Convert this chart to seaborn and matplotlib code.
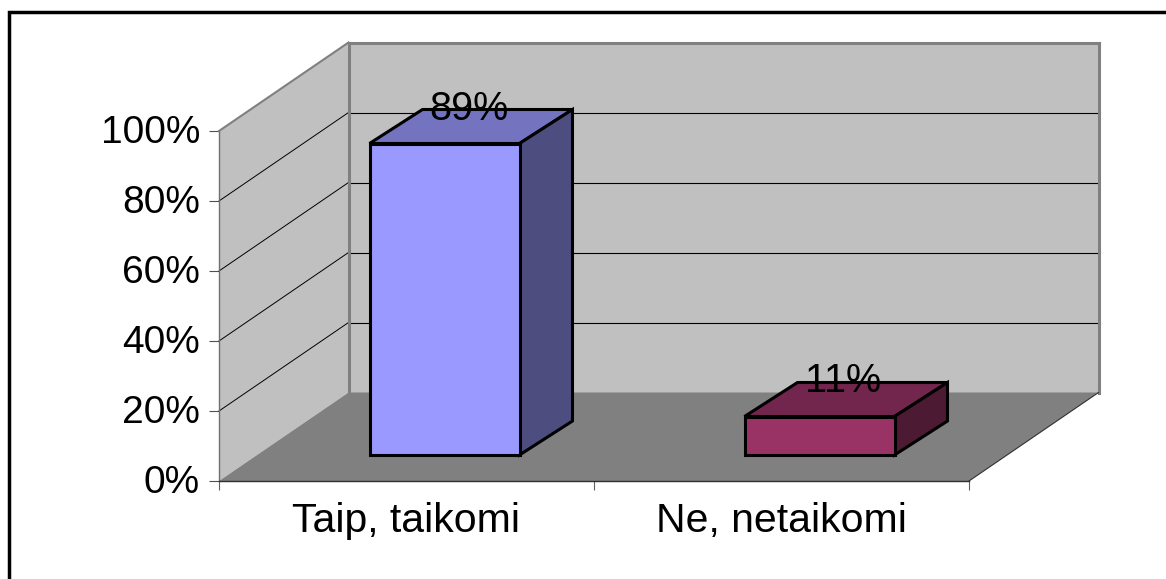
import matplotlib
matplotlib.use("Agg")
import matplotlib.pyplot as plt
import seaborn as sns
from matplotlib.lines import Line2D
from matplotlib.patches import Polygon
from matplotlib.transforms import IdentityTransform, Affine2D

# ---- data ----
categories = ["Taip, taikomi", "Ne, netaikomi"]
values = [89, 11]
value_labels = ["89%", "11%"]
y_ticks = [0, 20, 40, 60, 80, 100]
y_tick_labels = ["0%", "20%", "40%", "60%", "80%", "100%"]

# ---- style ----
front_colors = ["#9999FF", "#993366"]
top_colors = ["#7373BF", "#73264D"]
side_colors = ["#4D4D80", "#4D1A33"]
WALL, FLOOR, EDGE = "#C0C0C0", "#808080", "#808080"
W, H = 1166, 579
FLOOR_DEPTH = (129.5, 88.5)   # px: front plane to back wall
BAR_SHIFT = (38, 26)          # px: front plane to bar front face
BAR_DEPTH = (53, 34)          # px: bar front face to bar back face
FONT_Y = 28
FONT_X = 29.5
FONT_VALUE = 28.5
BAR_LW = 2.2

sns.set_style("white")
plt.rcParams["font.family"] = ["Liberation Sans", "DejaVu Sans"]

fig = plt.figure(figsize=(W / 100, H / 100), dpi=100, facecolor="white")
ax = fig.add_axes([219 / W, 1 - 481 / H, 750 / W, 350 / H], facecolor="none")

sns.barplot(x=categories, y=values, hue=categories, palette=front_colors,
            saturation=1, width=0.4, edgecolor="black", linewidth=BAR_LW,
            legend=False, ax=ax, zorder=3)
ax.set_xlim(-0.5, 1.5)
ax.set_ylim(0, 100)
for s in ax.spines.values():
    s.set_visible(False)

to_px = ax.transData.transform
ident = IdentityTransform()


def shifted(pt, d):
    return (pt[0] + d[0], pt[1] + d[1])


def add_poly(pts, **kw):
    ax.add_patch(Polygon(pts, closed=True, transform=ident, clip_on=False, **kw))


def add_line(a, b, color, lw, z):
    ax.add_line(Line2D([a[0], b[0]], [a[1], b[1]], color=color, lw=lw, transform=ident,
                       clip_on=False, zorder=z, solid_capstyle="projecting"))


x0, x1 = ax.get_xlim()
p00, p01 = to_px((x0, 0)), to_px((x0, 100))
p10 = to_px((x1, 0))
b00, b01, b10 = shifted(p00, FLOOR_DEPTH), shifted(p01, FLOOR_DEPTH), shifted(p10, FLOOR_DEPTH)
b11 = shifted(to_px((x1, 100)), FLOOR_DEPTH)

# walls and floor
add_poly([p00, p01, b01, b00], facecolor=WALL, edgecolor="none", zorder=0.5)
add_poly([b00, b01, b11, b10], facecolor=WALL, edgecolor="none", zorder=0.5)
add_poly([p00, b00, b10, p10], facecolor=FLOOR, edgecolor="none", zorder=0.6)

# gridlines
for v in y_ticks[1:-1]:
    p = to_px((x0, v))
    b = shifted(p, FLOOR_DEPTH)
    add_line(p, b, "black", 0.7, 0.8)
    add_line(b, shifted(to_px((x1, v)), FLOOR_DEPTH), "black", 0.8, 0.8)

# wall edges
add_line(p00, p01, "#707070", 1.0, 0.9)
add_line(p01, b01, EDGE, 1.5, 0.9)
add_line(b00, b01, EDGE, 2.2, 0.9)
add_line(b01, b11, EDGE, 2.2, 0.9)
add_line(b10, b11, EDGE, 2.2, 0.9)
add_line(p00, p10, "#303030", 1.0, 0.9)
add_line(p10, b10, "#303030", 0.8, 0.9)

# 3D bars, derived from seaborn's own bars
bars = [p for p in ax.patches if not isinstance(p, Polygon)]
for i, bar in enumerate(bars):
    xa, xb = bar.get_x(), bar.get_x() + bar.get_width()
    top = bar.get_height()
    f_lb = shifted(to_px((xa, 0)), BAR_SHIFT)
    f_rb = shifted(to_px((xb, 0)), BAR_SHIFT)
    f_lt = shifted(to_px((xa, top)), BAR_SHIFT)
    f_rt = shifted(to_px((xb, top)), BAR_SHIFT)
    style = dict(edgecolor="black", linewidth=BAR_LW, joinstyle="miter", zorder=2)
    add_poly([f_lt, f_rt, shifted(f_rt, BAR_DEPTH), shifted(f_lt, BAR_DEPTH)],
             facecolor=top_colors[i], **style)
    add_poly([f_rb, f_rt, shifted(f_rt, BAR_DEPTH), shifted(f_rb, BAR_DEPTH)],
             facecolor=side_colors[i], **style)
    bar.set_transform(ax.transData + Affine2D().translate(*BAR_SHIFT))
    bar.set_clip_on(False)
    bar.set_joinstyle("miter")
    ax.annotate(value_labels[i], xy=(bar.get_x() + bar.get_width() / 2, top),
                xytext=(38 + 24, 26 + 35), xycoords="data", textcoords="offset pixels",
                ha="center", va="center", fontsize=FONT_VALUE, color="black",
                annotation_clip=False, zorder=5)

# axes ticks and labels
ax.set_yticks(y_ticks, y_tick_labels, fontsize=FONT_Y, color="black")
ax.set_xticks([0, 1], categories, fontsize=FONT_X, color="black")
ax.set_xticks([-0.5, 0.5, 1.5], minor=True)
ax.tick_params(axis="y", which="major", left=True, length=7.2, width=0.8, color="#505050", pad=6.5)
ax.tick_params(axis="x", which="major", bottom=False, length=0, pad=15)
ax.tick_params(axis="x", which="minor", bottom=True, length=6.5, width=0.8, color="#606060")
ax.set_xlabel("")
ax.set_ylabel("")
for lab in ax.get_yticklabels():
    lab.set_transform(lab.get_transform() + Affine2D().translate(0, 2))

# outer frame, running off the right and bottom edges of the picture
fx, fy = 9 / W, 1 - 12 / H
fig.add_artist(Line2D([fx, fx, 1.01], [-0.01, fy, fy], color="black", lw=2.5,
                      solid_joinstyle="miter"))

fig.savefig("out.png", dpi=100, facecolor="white")
